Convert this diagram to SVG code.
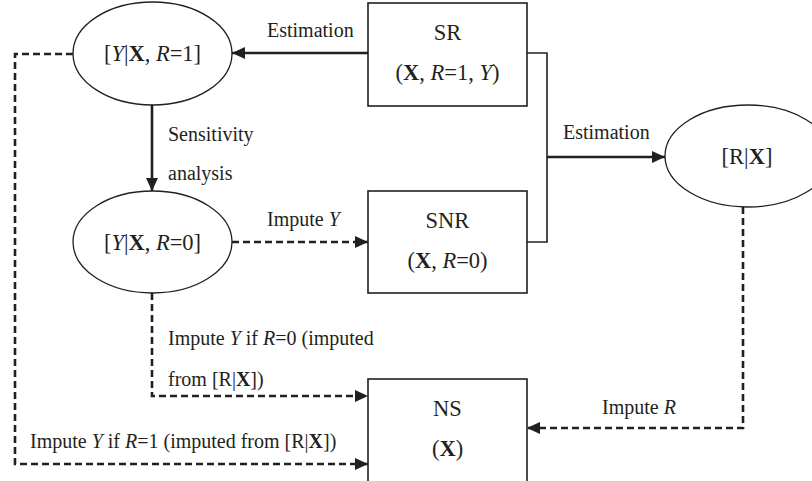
<svg xmlns="http://www.w3.org/2000/svg" width="812" height="481" viewBox="0 0 812 481">
<style>
text { font-family: "Liberation Serif", "Times New Roman", serif; fill: #231f20; }
.node { font-size: 22.5px; text-anchor: middle; }
.lbl { font-size: 20px; }
.b { font-weight: bold; }
.i { font-style: italic; }
.shape { fill: #ffffff; stroke: #231f20; }
.box { stroke-width: 1.6; }
.ell { stroke-width: 1.3; }
.solid { fill: none; stroke: #231f20; stroke-width: 2.6; }
.thin { fill: none; stroke: #231f20; stroke-width: 1.6; }
.dash { fill: none; stroke: #231f20; stroke-width: 2.6; stroke-dasharray: 7 4; }
</style>
<defs>
<marker id="ah" viewBox="0 0 13 12" refX="13" refY="6" markerWidth="13" markerHeight="12" markerUnits="userSpaceOnUse" orient="auto">
<path d="M0,0 L13,6 L0,12 Z" fill="#231f20"/>
</marker>
</defs>
<rect width="812" height="481" fill="#ffffff"/>
<g id="connectors">
<line class="solid" x1="368" y1="53" x2="232" y2="53" marker-end="url(#ah)"/>
<line class="solid" x1="152" y1="105" x2="152" y2="191" marker-end="url(#ah)"/>
<polyline class="thin" points="527,53 547,53 547,242 527,242"/>
<line class="solid" x1="547" y1="157" x2="665" y2="157" marker-end="url(#ah)"/>
<line class="dash" x1="232" y1="242" x2="368" y2="242" marker-end="url(#ah)"/>
<polyline class="dash" points="152,293 152,396 368,396" marker-end="url(#ah)"/>
<polyline class="dash" points="73,54 15,54 15,464 368,464" marker-end="url(#ah)"/>
<polyline class="dash" points="743,207 743,428 527,428" marker-end="url(#ah)"/>
<text class="lbl" x="267" y="37">Estimation</text>
<text class="lbl" x="168" y="141">Sensitivity</text>
<text class="lbl" x="168" y="180">analysis</text>
<text class="lbl" x="563" y="139">Estimation</text>
<text class="lbl" x="267" y="226">Impute <tspan class="i">Y</tspan></text>
<text class="lbl" x="168" y="345">Impute <tspan class="i">Y</tspan> if <tspan class="i">R</tspan>=0 (imputed</text>
<text class="lbl" x="168" y="386">from [R|<tspan class="b">X</tspan>])</text>
<text class="lbl" x="30" y="448">Impute <tspan class="i">Y</tspan> if <tspan class="i">R</tspan>=1 (imputed from [R|<tspan class="b">X</tspan>])</text>
<text class="lbl" x="602" y="414">Impute <tspan class="i">R</tspan></text>
</g>
<g id="node-y-r1">
<ellipse class="shape ell" cx="152.5" cy="53.5" rx="79.5" ry="51.5"/>
<text class="node" x="152.5" y="61">[<tspan class="i">Y</tspan>|<tspan class="b">X</tspan>, <tspan class="i">R</tspan>=1]</text>
</g>
<g id="node-y-r0">
<ellipse class="shape ell" cx="152.5" cy="242" rx="79.5" ry="51"/>
<text class="node" x="152.5" y="250">[<tspan class="i">Y</tspan>|<tspan class="b">X</tspan>, <tspan class="i">R</tspan>=0]</text>
</g>
<g id="node-rx">
<ellipse class="shape ell" cx="748" cy="156" rx="83" ry="51"/>
<text class="node" x="747" y="164">[R|<tspan class="b">X</tspan>]</text>
</g>
<g id="node-sr">
<rect class="shape box" x="368" y="3" width="159" height="103"/>
<text class="node" x="447.5" y="40">SR</text>
<text class="node" x="447.5" y="80">(<tspan class="b">X</tspan>, <tspan class="i">R</tspan>=1, <tspan class="i">Y</tspan>)</text>
</g>
<g id="node-snr">
<rect class="shape box" x="368" y="191" width="159" height="102"/>
<text class="node" x="447.5" y="228">SNR</text>
<text class="node" x="447.5" y="268">(<tspan class="b">X</tspan>, <tspan class="i">R</tspan>=0)</text>
</g>
<g id="node-ns">
<rect class="shape box" x="368" y="379" width="159" height="104"/>
<text class="node" x="447.5" y="416">NS</text>
<text class="node" x="447.5" y="456">(<tspan class="b">X</tspan>)</text>
</g>
</svg>
